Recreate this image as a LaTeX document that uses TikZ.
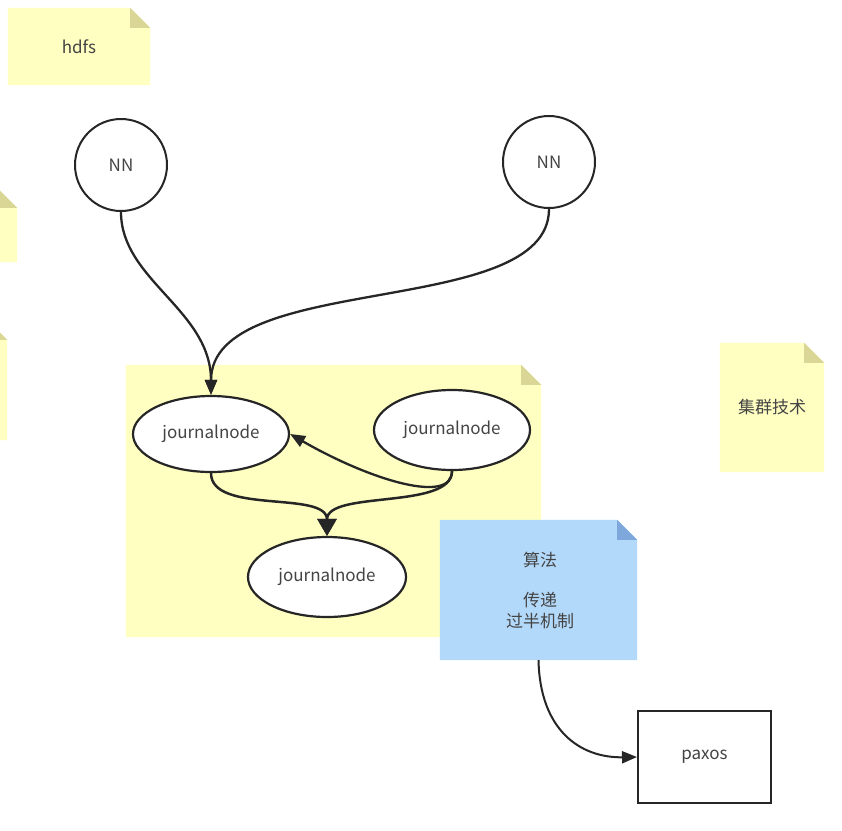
\documentclass[tikz,border=0pt]{standalone}
\usepackage{fontspec}
\setmainfont{Noto Sans CJK SC}
\usetikzlibrary{arrows.meta,shapes.geometric,calc}

\definecolor{notey}{RGB}{255,255,194}
\definecolor{foldy}{RGB}{217,214,150}
\definecolor{noteb}{RGB}{179,217,250}
\definecolor{foldb}{RGB}{126,168,219}
\definecolor{ink}{RGB}{38,38,38}
\definecolor{txt}{RGB}{68,68,68}

% sticky note: fill colour, fold colour, node name
\newcommand{\stickynote}[3]{%
  \fill[#1] (#3.south west) |- ($(#3.north east)+(-20,0)$) -- ($(#3.north east)+(0,20)$) |- cycle;
  \fill[#2] ($(#3.north east)+(-20,0)$) -- ($(#3.north east)+(-20,20)$) -- ($(#3.north east)+(0,20)$) -- cycle;
}

\begin{document}
\begin{tikzpicture}[x=1pt,y=-1pt,
  every node/.style={font=\fontsize{17}{21}\selectfont, text=txt},
  note/.style={inner sep=0pt, align=center},
  nn/.style={circle, draw=ink, line width=2pt, fill=white, minimum size=92pt},
  jn/.style={ellipse, draw=ink, line width=2.2pt, fill=white, minimum width=156pt, minimum height=76pt},
  box/.style={rectangle, draw=ink, line width=2pt, fill=white, minimum width=133pt, minimum height=92pt},
  link/.style={draw=ink, line width=2.3pt, -{Triangle[length=15pt,width=12pt]}},
  biglink/.style={draw=ink, line width=2.5pt, -{Triangle[length=17pt,width=19pt]}}]
\useasboundingbox (0,0) rectangle (842,830);
\clip (0,0) rectangle (842,830);

% notes
\node[note, minimum width=142pt, minimum height=77pt] (hdfs) at (79,46.5) {};
\stickynote{notey}{foldy}{hdfs}
\node at (hdfs) {hdfs};
\node[note, minimum width=78pt, minimum height=74pt] (left1) at (-22,225) {};
\stickynote{notey}{foldy}{left1}
\node[note, minimum width=78pt, minimum height=120pt] (left2) at (-32,380) {};
\stickynote{notey}{foldy}{left2}
\node[note, minimum width=415pt, minimum height=272pt] (group) at (333.5,501) {};
\stickynote{notey}{foldy}{group}
\node[note, minimum width=104pt, minimum height=129pt] (cluster) at (772,407.5) {};
\stickynote{notey}{foldy}{cluster}
\node at (cluster) {集群技术};
\node[note, minimum width=197pt, minimum height=140pt] (algo) at (538.5,590) {};
\stickynote{noteb}{foldb}{algo}
\node at (540,560) {算法};
\node[align=center] at (540,611) {传递\\过半机制};

% namenodes
\node[nn] (nn1) at (121,165) {NN};
\node[nn] (nn2) at (549,162) {NN};

% journalnodes
\node[jn] (jn1) at (211,434) {journalnode};
\node[jn, minimum height=80pt] (jn2) at (452,430) {journalnode};
\node[jn, minimum width=158pt, minimum height=80pt] (jn3) at (327,577) {journalnode};

\node[box] (paxos) at (704.5,757) {paxos};

% connectors
\draw[link] (nn1.south) .. controls (121,280) and (211,310) .. (jn1.north);
\draw[link] (nn2.south) .. controls (549,320) and (211,270) .. (jn1.north);
\draw[biglink] (jn1.south) .. controls (211,515) and (327,490) .. (jn3.north);
\draw[biglink] (jn2.south) .. controls (452,510) and (327,490) .. (jn3.north);
\draw[link] (jn2.south) .. controls (452,505) and (370,480) .. (jn1.east);
\draw[link, line width=2pt] (algo.south) .. controls (540,730) and (580,758) .. (paxos.west);
\end{tikzpicture}
\end{document}
